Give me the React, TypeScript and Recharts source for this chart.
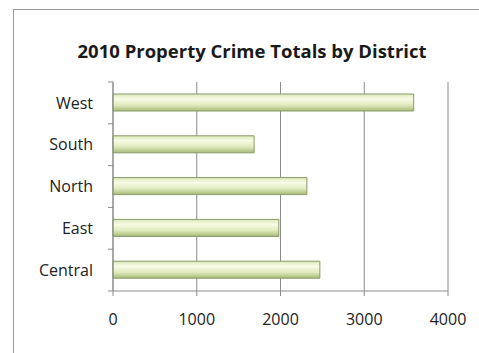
import { BarChart, Bar, XAxis, YAxis, CartesianGrid } from 'recharts';

const districts = ['West', 'South', 'North', 'East', 'Central'];
const totals = [3590, 1685, 2315, 1980, 2470];
const xTicks = [0, 1000, 2000, 3000, 4000];

const data = districts.map((name, i) => ({ name, total: totals[i] }));

const FONT = "'Open Sans', 'Liberation Sans', sans-serif";
const LABEL_GAP = 20;

// category label plus the small tick marks on the band boundaries, like Excel draws them
const CategoryTick = (props: any) => {
  const { x, y, payload, index, visibleTicksCount } = props;
  const half = payload?.offset ?? 0;
  const ax = x + LABEL_GAP;
  return (
    <g>
      <text x={x} y={y} dy='0.35em' textAnchor='end' fill='#222' fontSize={16} fontFamily={FONT}>
        {payload.value}
      </text>
      <line x1={ax - 5} x2={ax} y1={y - half} y2={y - half} stroke='#8c8c8c' />
      {index === visibleTicksCount - 1 && (
        <line x1={ax - 5} x2={ax} y1={y + half} y2={y + half} stroke='#8c8c8c' />
      )}
    </g>
  );
};

export default function App() {
  return (
    <div style={{ position: 'absolute', left: 0, top: 0, width: 479, height: 353, background: '#fff', overflow: 'hidden' }}>
      <div
        style={{
          position: 'absolute',
          left: 13,
          top: 9,
          width: 480,
          height: 360,
          borderLeft: '1px solid #9a9a9a',
          borderTop: '1px solid #9a9a9a',
        }}
      />
      <div
        style={{
          position: 'absolute',
          left: 252,
          top: 38,
          transform: 'translateX(-50%)',
          whiteSpace: 'nowrap',
          fontFamily: FONT,
          fontWeight: 'bold',
          fontSize: 18.5,
          color: '#1a1a1a',
        }}
      >
        2010 Property Crime Totals by District
      </div>
      <div style={{ position: 'absolute', left: 0, top: 0 }}>
        <BarChart
          width={479}
          height={353}
          data={data}
          layout='vertical'
          margin={{ top: 82, right: 31, bottom: 32, left: 13 }}
        >
          <defs>
            <linearGradient id='barFill' x1='0' y1='0' x2='0' y2='1'>
              <stop offset='0%' stopColor='#dde8b8' />
              <stop offset='30%' stopColor='#f8fbe6' />
              <stop offset='65%' stopColor='#e0eabd' />
              <stop offset='100%' stopColor='#a8bb78' />
            </linearGradient>
          </defs>
          <CartesianGrid horizontal={false} stroke='#8c8c8c' />
          <XAxis
            type='number'
            domain={[0, 4000]}
            ticks={xTicks}
            interval={0}
            height={30}
            stroke='#8c8c8c'
            tickSize={5}
            tickMargin={18}
            tick={{ fill: '#222', fontSize: 16, fontFamily: FONT }}
          />
          <YAxis
            type='category'
            dataKey='name'
            width={100}
            interval={0}
            stroke='#8c8c8c'
            tickLine={false}
            tickSize={5}
            tickMargin={LABEL_GAP - 5}
            tick={CategoryTick}
          />
          <Bar
            dataKey='total'
            barSize={17}
            fill='url(#barFill)'
            stroke='#8a9a68'
            strokeWidth={1}
            isAnimationActive={false}
          />
        </BarChart>
      </div>
    </div>
  );
}
